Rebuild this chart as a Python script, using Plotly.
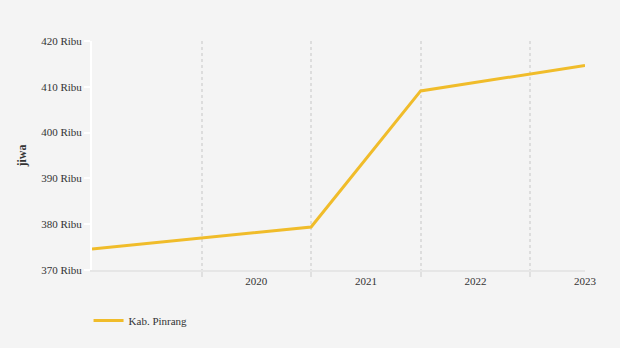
import plotly.graph_objects as go

# Data (x in fractional years as placed on the time axis)
years = [2018.5, 2020.5, 2021.5, 2023.0]
values = [374.6, 379.4, 409.1, 414.65]
series_name = "Kab. Pinrang"
x_tick_vals = [2020, 2021, 2022, 2023]
x_tick_text = ["2020", "2021", "2022", "2023"]
grid_vals = [2019.5, 2020.5, 2021.5, 2022.5]
y_ticks = [370, 380, 390, 400, 410, 420]

FONT = "Liberation Serif"

fig = go.Figure()
fig.add_trace(go.Scatter(
    x=years, y=values, mode="lines", name=series_name,
    line=dict(color="#f0bc2a", width=3),
))

fig.update_layout(
    width=620, height=348,
    paper_bgcolor="#f4f4f4", plot_bgcolor="#f4f4f4",
    margin=dict(l=92, r=35, t=41, b=78),
    font=dict(family=FONT, size=11, color="#333333"),
    showlegend=True,
    legend=dict(orientation="h", x=-0.007, xanchor="left", y=-0.22, yanchor="middle",
                font=dict(family=FONT, size=11, color="#333333"), bgcolor="rgba(0,0,0,0)"),
)
fig.update_xaxes(
    range=[2018.5, 2023.0],
    tickvals=x_tick_vals, ticktext=x_tick_text,
    ticks="", showgrid=False,
    showline=True, linecolor="#e6e6e6", linewidth=2,
    tickfont=dict(family=FONT, size=11, color="#333333"),
    zeroline=False,
    minor=dict(tickvals=grid_vals, ticks="outside", ticklen=5, tickcolor="#e0e0e0", tickwidth=2,
               showgrid=True, gridcolor="#dddddd", griddash="dot", gridwidth=1.5),
)
fig.update_yaxes(
    range=[370, 420], tickvals=y_ticks,
    ticktext=[f"{v} Ribu" for v in y_ticks],
    showgrid=False, zeroline=False,
    showline=True, linecolor="#ffffff", linewidth=2,
    ticks="outside", ticklen=6, tickcolor="#ffffff", tickwidth=2,
    tickfont=dict(family=FONT, size=11, color="#333333"),
    title=dict(text="<b>jiwa</b>", font=dict(family=FONT, size=12, color="#333333"), standoff=12),
)

fig.write_html("out.html")
